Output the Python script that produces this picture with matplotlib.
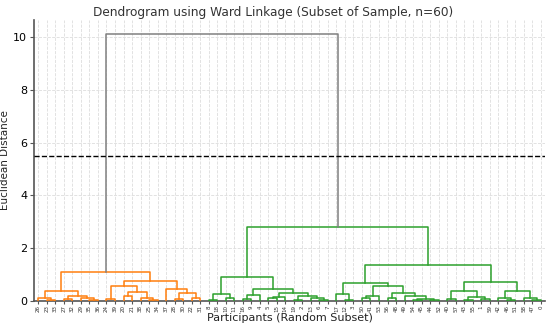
import matplotlib
matplotlib.use("Agg")
import matplotlib.pyplot as plt

# leaf labels, left to right
leaf_labels = [26, 23, 33, 27, 32, 29, 35, 36, 24, 39, 20, 21, 38, 25, 34, 37, 28, 30, 22, 31,
               8, 18, 10, 11, 16, 9, 4, 5, 15, 14, 19, 2, 13, 6, 7,
               17, 12, 3, 50, 41, 53, 56, 48, 49, 54, 45, 44, 52, 40, 57, 43, 55, 1, 59, 42,
               46, 51, 58, 47, 0]

# merges as [left, right, height]; ints are leaf positions
orange_tree = [
    [[0, [1, 2, 0.05], 0.12], [[3, 4, 0.06], [5, [6, 7, 0.05], 0.12], 0.2], 0.37],
    [[[8, 9, 0.06], [[10, 11, 0.18], [12, [13, 14, 0.05], 0.1], 0.33], 0.55],
     [15, [[16, 17, 0.08], [18, 19, 0.1], 0.28], 0.46], 0.77],
    1.1]

green_left_tree = [
    [[20, 21, 0.05], [22, 23, 0.12], 0.25],
    [[[24, 25, 0.08], 26, 0.22],
     [[[27, 28, 0.12], 29, 0.15], [[30, 31, 0.05], [32, [33, 34, 0.04], 0.1], 0.2], 0.3], 0.43],
    0.92]

green_right_tree = [
    [[35, [36, 37, 0.05], 0.25],
     [[[38, 39, 0.1], 40, 0.2],
      [[41, 42, 0.1], [43, [[44, 45, 0.03], [46, 47, 0.05], 0.08], 0.19], 0.29], 0.55], 0.66],
    [[[48, 49, 0.06], [[50, 51, 0.05], [52, 53, 0.08], 0.16], 0.39],
     [[54, [55, 56, 0.04], 0.1], [57, [58, 59, 0.05], 0.12], 0.39], 0.72],
    1.36]

green_height = 2.8
root_height = 10.1
cut_height = 5.5

fig = plt.figure(figsize=(5.5, 3.27), dpi=100)
ax = fig.add_axes([0.062, 0.08, 0.929, 0.859])


def draw(node, color):
    # returns (x, y) of the top of this node
    if isinstance(node, int):
        return 5 + 10 * node, 0.0
    left, right, h = node
    xl, yl = draw(left, color)
    xr, yr = draw(right, color)
    ax.plot([xl, xl, xr, xr], [yl, h, h, yr], color=color, lw=1.1, zorder=3)
    return (xl + xr) / 2, h


xo, yo = draw(orange_tree, "#ff7f0e")
green_tree = [green_left_tree, green_right_tree, green_height]
xg, yg = draw(green_tree, "#2ca02c")
ax.plot([xo, xo, xg, xg], [yo, root_height, root_height, yg], color="#808080", lw=1.1, zorder=3)

ax.axhline(cut_height, color="black", ls="--", lw=1, zorder=4)

ax.set_xlim(0, 10 * len(leaf_labels))
ax.set_ylim(0, 10.65)
ax.set_xticks([5 + 10 * i for i in range(len(leaf_labels))])
ax.set_xticklabels([str(l) for l in leaf_labels], rotation=90, fontsize=4, color="#333333")
ax.set_yticks([0, 2, 4, 6, 8, 10])
ax.tick_params(axis="y", labelsize=8, length=3, pad=2, color="#555555")
ax.tick_params(axis="x", length=2, pad=1, color="#555555")
ax.grid(True, ls="--", color="#dddddd", lw=0.6, zorder=0)
ax.set_axisbelow(True)
for s in ["top", "right"]:
    ax.spines[s].set_visible(False)
for s in ["left", "bottom"]:
    ax.spines[s].set_color("#555555")
    ax.spines[s].set_linewidth(1.2)

fig.text(0.496, 0.962, "Dendrogram using Ward Linkage (Subset of Sample, n=60)",
         fontsize=8.7, color="#333333", ha="center", va="center")
ax.set_xlabel("Participants (Random Subset)", fontsize=8, labelpad=1, color="#222222")
ax.set_ylabel("Euclidean Distance", fontsize=7.5, labelpad=2, color="#222222")

fig.savefig("out.png", dpi=100)
